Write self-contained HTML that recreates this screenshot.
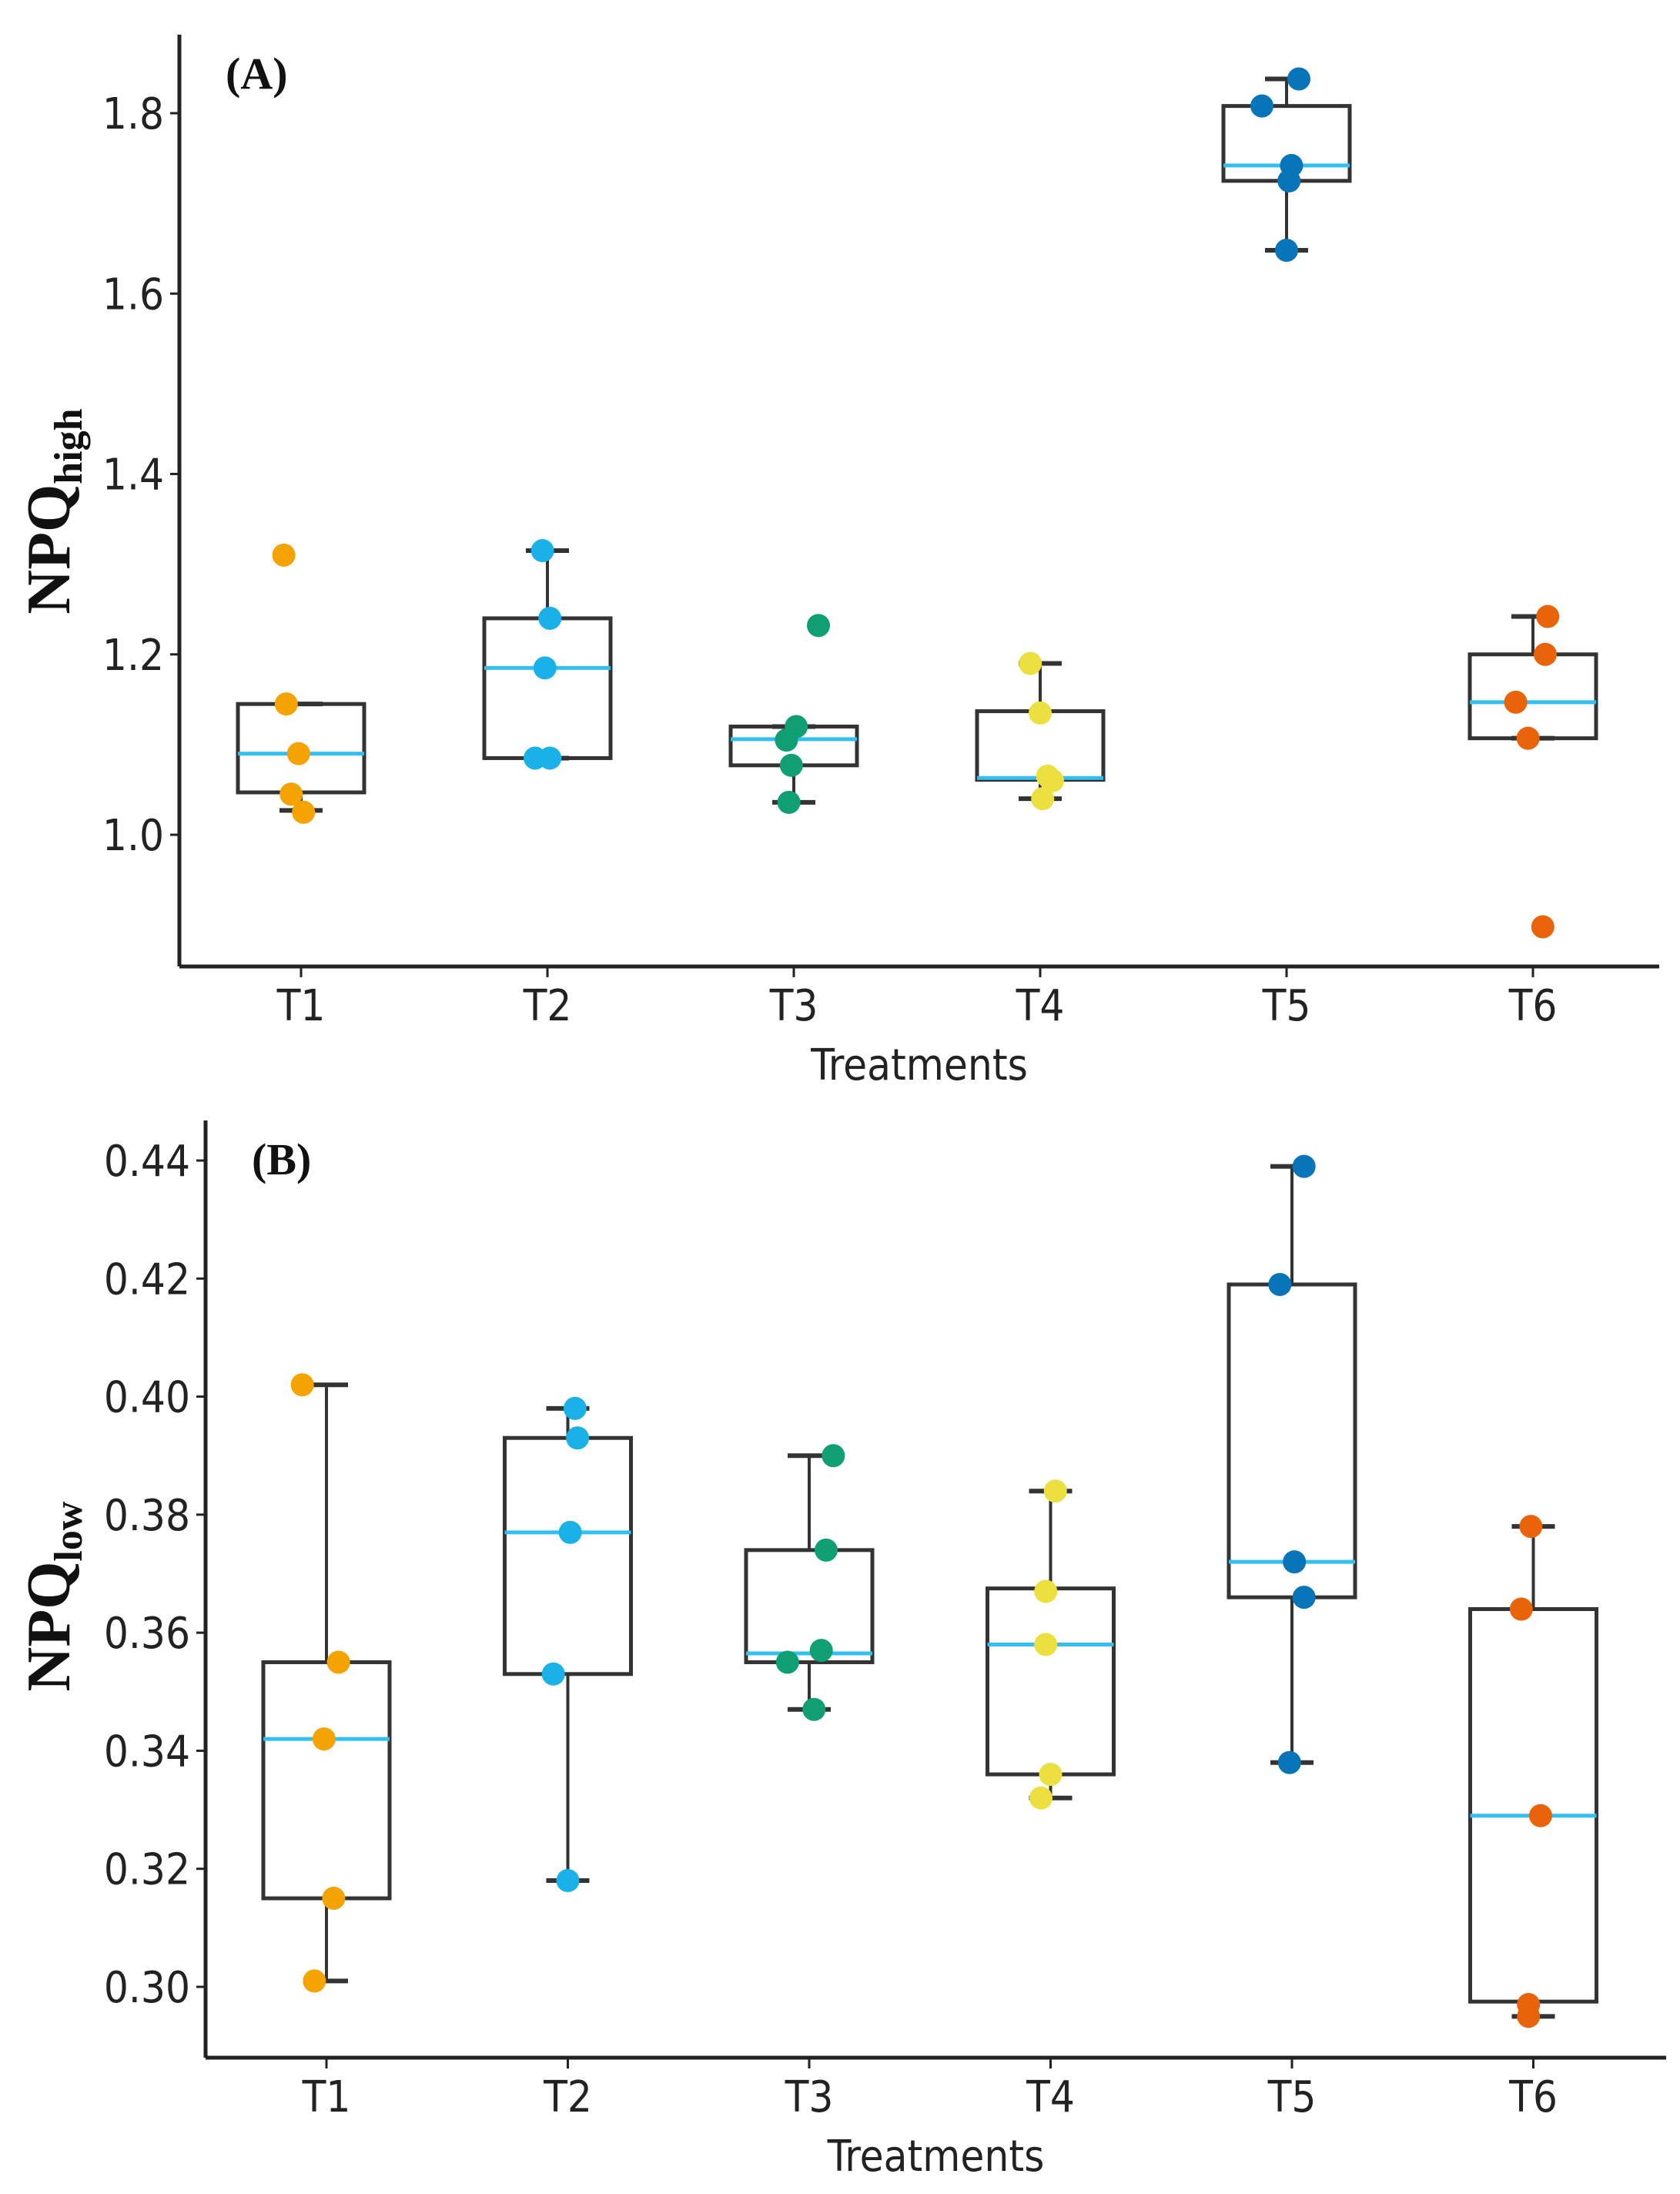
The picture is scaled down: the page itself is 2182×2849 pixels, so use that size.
<!DOCTYPE html>
<html><head><meta charset="utf-8"><style>
html,body{margin:0;padding:0;background:#fff;}
svg{display:block;}
.tk{font-family:"DejaVu Sans Condensed","DejaVu Sans","Liberation Sans",sans-serif;font-size:56px;fill:#222;}
.lab{font-family:"Liberation Serif",serif;font-weight:bold;fill:#111;}
</style></head><body>
<svg id="chart" width="2182" height="2849" viewBox="0 0 2182 2849"></svg>
<script>
const categories = ["T1","T2","T3","T4","T5","T6"];
const colors = ["#f5a300","#1ab0e8","#109e73","#ece040","#0875b8","#e8630a"];
// Panel A values
const aPoints = [[1.31,1.145,1.09,1.045,1.025],[1.315,1.24,1.185,1.085,1.085],[1.232,1.12,1.105,1.077,1.036],[1.19,1.135,1.065,1.06,1.04],[1.838,1.808,1.742,1.725,1.648],[1.242,1.2,1.147,1.107,0.898]];
const aQ1 = [1.047,1.085,1.077,1.061,1.725,1.107];
const aMed = [1.09,1.185,1.106,1.063,1.742,1.147];
const aQ3 = [1.145,1.24,1.12,1.137,1.808,1.2];
const aLo = [1.027,1.085,1.036,1.04,1.648,1.107];
const aHi = [1.145,1.315,1.12,1.19,1.838,1.242];
const aTicks = [1.0,1.2,1.4,1.6,1.8];
const aTickLabels = ["1.0","1.2","1.4","1.6","1.8"];
// Panel B values
const bPoints = [[0.402,0.355,0.342,0.315,0.301],[0.398,0.393,0.377,0.353,0.318],[0.390,0.374,0.357,0.355,0.347],[0.384,0.367,0.358,0.336,0.332],[0.439,0.419,0.372,0.366,0.338],[0.378,0.364,0.329,0.297,0.295]];
const bQ1 = [0.315,0.353,0.355,0.336,0.366,0.2975];
const bMed = [0.342,0.377,0.3565,0.358,0.372,0.329];
const bQ3 = [0.355,0.393,0.374,0.3675,0.419,0.364];
const bLo = [0.301,0.318,0.347,0.332,0.338,0.295];
const bHi = [0.402,0.398,0.390,0.384,0.439,0.378];
const bTicks = [0.30,0.32,0.34,0.36,0.38,0.40,0.42,0.44];
const bTickLabels = ["0.30","0.32","0.34","0.36","0.38","0.40","0.42","0.44"];
const jitterA = [[-0.07,-0.06,-0.01,-0.04,0.01],[-0.02,0.01,-0.01,-0.05,0.01],[0.1,0.01,-0.03,-0.01,-0.02],[-0.04,0.0,0.03,0.05,0.01],[0.05,-0.1,0.02,0.01,0.0],[0.06,0.05,-0.07,-0.02,0.04]];
const jitterB = [[-0.1,0.05,-0.01,0.03,-0.05],[0.03,0.04,0.01,-0.06,0.0],[0.1,0.07,0.05,-0.09,0.02],[0.02,-0.02,-0.02,0.0,-0.04],[0.05,-0.05,0.01,0.05,-0.01],[-0.01,-0.05,0.03,-0.02,-0.02]];

const NS="http://www.w3.org/2000/svg";
const svg=document.getElementById('chart');
function mk(tag,attrs,parent){const e=document.createElementNS(NS,tag);for(const k in attrs)e.setAttribute(k,attrs[k]);(parent||svg).appendChild(e);return e;}

function panel(cfg){
  const g=mk('g',{});
  
  
  const y=v=>cfg.y0px+(v-cfg.v0)*(cfg.y1px-cfg.y0px)/(cfg.v1-cfg.v0);
  const x=i=>cfg.xc0+i*cfg.dx;
  const ya=mk('line',{x1:cfg.axX,y1:cfg.top,x2:cfg.axX,y2:cfg.bottom,stroke:'#222','stroke-width':5},g);
  
  const xa=mk('line',{x1:cfg.axX,y1:cfg.bottom,x2:cfg.right,y2:cfg.bottom,stroke:'#222','stroke-width':5},g);
  
  cfg.ticks.forEach((t,k)=>{
    mk('line',{x1:cfg.axX-12,y1:y(t),x2:cfg.axX,y2:y(t),stroke:'#222','stroke-width':3},g);
    const tx=mk('text',{x:cfg.axX-20,y:y(t)+20,'text-anchor':'end',class:'tk'},g);
    tx.textContent=cfg.tickLabels[k];
    
  });
  categories.forEach((c,i)=>{
    mk('line',{x1:x(i),y1:cfg.bottom,x2:x(i),y2:cfg.bottom+14,stroke:'#222','stroke-width':3},g);
    const tx=mk('text',{x:x(i),y:cfg.bottom+70,'text-anchor':'middle',class:'tk'},g);
    tx.textContent=c;
    
  });
  const xt=mk('text',{x:(cfg.axX+cfg.right)/2,y:cfg.bottom+147,'text-anchor':'middle',class:'tk'},g);
  xt.textContent='Treatments';
  
  const yt=mk('text',{transform:`translate(${cfg.ylabX},${cfg.ylabY}) rotate(-90)`,'text-anchor':'middle',class:'lab','font-size':80},g);
  yt.innerHTML='NPQ<tspan font-size="52" dy="16">'+cfg.sub+'</tspan>';
  
  const pl=mk('text',{x:cfg.axX+60,y:cfg.top+70,class:'lab','font-size':58},g);
  pl.textContent=cfg.label;
  
  const hw=82;
  categories.forEach((c,i)=>{
    const bg=mk('g',{},g);
    
    const cx=x(i);
    mk('line',{x1:cx,y1:y(cfg.hi[i]),x2:cx,y2:y(cfg.q3[i]),stroke:'#333','stroke-width':4},bg);
    mk('line',{x1:cx,y1:y(cfg.lo[i]),x2:cx,y2:y(cfg.q1[i]),stroke:'#333','stroke-width':4},bg);
    mk('line',{x1:cx-28,y1:y(cfg.hi[i]),x2:cx+28,y2:y(cfg.hi[i]),stroke:'#333','stroke-width':6},bg);
    mk('line',{x1:cx-28,y1:y(cfg.lo[i]),x2:cx+28,y2:y(cfg.lo[i]),stroke:'#333','stroke-width':6},bg);
    mk('rect',{x:cx-hw,y:y(cfg.q3[i]),width:2*hw,height:y(cfg.q1[i])-y(cfg.q3[i]),fill:'none',stroke:'#333','stroke-width':5},bg);
    mk('line',{x1:cx-hw,y1:y(cfg.med[i]),x2:cx+hw,y2:y(cfg.med[i]),stroke:'#33c0f0','stroke-width':5},bg);
    cfg.pts[i].forEach((v,j)=>{
      const p=mk('circle',{cx:cx+cfg.jit[i][j]*cfg.dx,cy:y(v),r:15,fill:colors[i]},bg);
      
      
    });
  });
}
panel({name:'panel-a',label:'(A)',sub:'high',v0:1.0,v1:1.8,y0px:1084,y1px:147,axX:233,top:45,bottom:1255,right:2155,xc0:391,dx:320,ylabX:90,ylabY:664,
  ticks:aTicks,tickLabels:aTickLabels,pts:aPoints,q1:aQ1,med:aMed,q3:aQ3,lo:aLo,hi:aHi,jit:jitterA});
panel({name:'panel-b',label:'(B)',sub:'low',v0:0.30,v1:0.44,y0px:2580,y1px:1507,axX:267,top:1455,bottom:2672,right:2164,xc0:424,dx:313.5,ylabX:90,ylabY:2073,
  ticks:bTicks,tickLabels:bTickLabels,pts:bPoints,q1:bQ1,med:bMed,q3:bQ3,lo:bLo,hi:bHi,jit:jitterB});
</script>
</body></html>
